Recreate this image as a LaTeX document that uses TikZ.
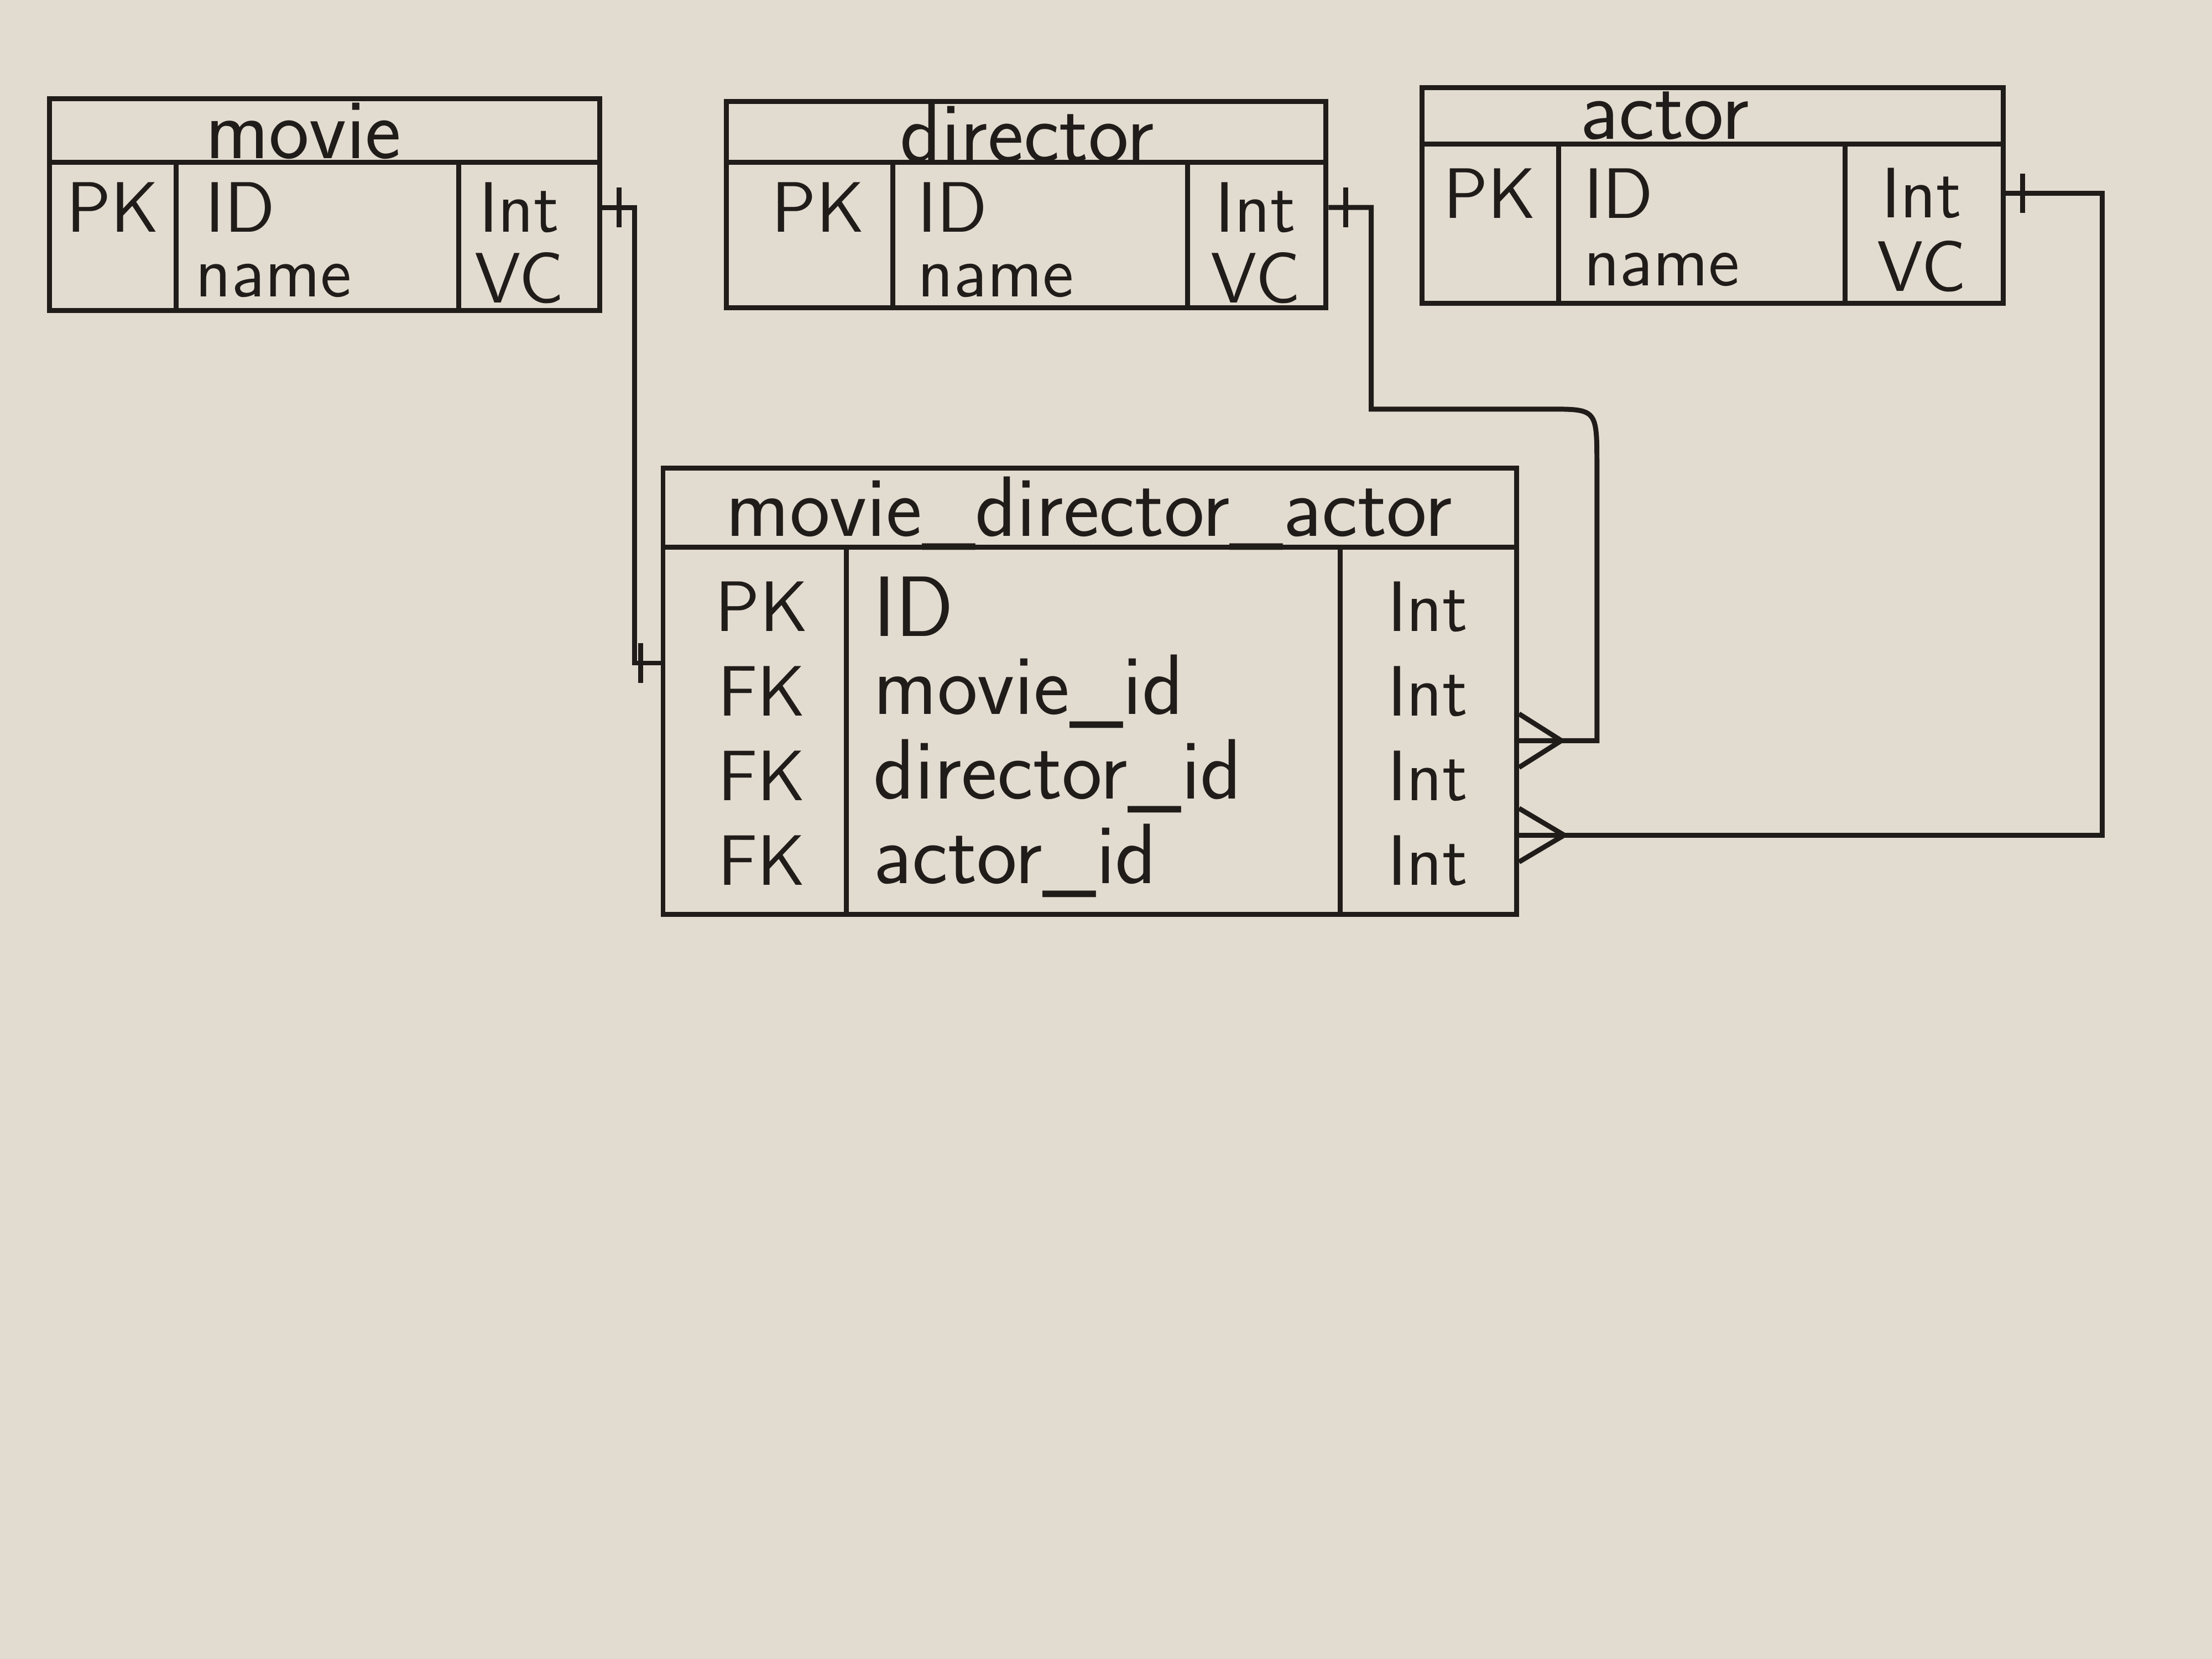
\documentclass[tikz,border=0pt]{standalone}
\usepackage{tikz}
\usetikzlibrary{positioning}

\definecolor{paper}{RGB}{226,219,207}
\definecolor{ink}{RGB}{32,28,26}

\tikzset{
  tbl/.style={draw=ink, line width=1pt, inner sep=0pt},
  ttl/.style={font=\sffamily\LARGE, text=ink, inner sep=0pt},
  fld/.style={font=\sffamily\Large, text=ink, anchor=west, inner sep=0pt},
  bigfld/.style={font=\sffamily\LARGE, text=ink, anchor=west, inner sep=1pt},
  keycell/.style={font=\sffamily\Large, text=ink, inner sep=0pt},
  typ/.style={font=\sffamily\Large, text=ink, inner sep=0pt},
  rel/.style={draw=ink, line width=1pt},
}

\begin{document}
\begin{tikzpicture}[x=0.1mm, y=-0.1mm]
    \fill [paper] (0,0) rectangle (1568,1176);
    \useasboundingbox (0,0) rectangle (1568,1176);

    % movie
    \node [tbl, minimum width=39mm, minimum height=15mm] (movie) at (230,145) {};
    \draw [rel] (35,115) -- (425,115);
    \draw [rel] (125,115) -- (125,220);
    \draw [rel] (325,115) -- (325,220);
    \node [ttl] (movie-t) at (215,93) {movie};
    \node [keycell] (movie-pk) at (80,147) {PK};
    \node [fld] (movie-id) at (145,147) {ID};
    \node [fld] (movie-name) at (138,199) {name};
    \node [typ] (movie-idt) at (368,147) {Int};
    \node [typ] (movie-namet) at (368,197) {VC};

    % director
    \node [tbl, minimum width=42.5mm, minimum height=14.6mm] (director) at (727.5,145) {};
    \draw [rel] (515,115) -- (940,115);
    \draw [rel] (633,115) -- (633,218);
    \draw [rel] (842,115) -- (842,218);
    \node [ttl] (director-t) at (728,94) {director};
    \node [keycell] (director-pk) at (580,147) {PK};
    \node [fld] (director-id) at (650,147) {ID};
    \node [fld] (director-name) at (650,199) {name};
    \node [typ] (director-idt) at (890,147) {Int};
    \node [typ] (director-namet) at (890,197) {VC};

    % actor
    \node [tbl, minimum width=41.2mm, minimum height=15.3mm] (actor) at (1214,138.5) {};
    \draw [rel] (1008,102) -- (1420,102);
    \draw [rel] (1105,102) -- (1105,215);
    \draw [rel] (1308,102) -- (1308,215);
    \node [ttl] (actor-t) at (1180,82) {actor};
    \node [keycell] (actor-pk) at (1056,137) {PK};
    \node [fld] (actor-id) at (1122,137) {ID};
    \node [fld] (actor-name) at (1122,191) {name};
    \node [typ] (actor-idt) at (1362,137) {Int};
    \node [typ] (actor-namet) at (1362,189) {VC};

    % movie_director_actor
    \node [tbl, minimum width=60.5mm, minimum height=31.6mm] (mda) at (772.5,490) {};
    \draw [rel] (470,388) -- (1075,388);
    \draw [rel] (600,388) -- (600,648);
    \draw [rel] (950,388) -- (950,648);
    \node [ttl] (mda-t) at (772,364) {movie\_director\_actor};
    \node [keycell] (mda-pk) at (540,430) {PK};
    \node [bigfld] (mda-id) at (615,430) {ID};
    \node [typ] (mda-idt) at (1012,430) {Int};
    \node [keycell] (mda-fk1) at (540,490) {FK};
    \node [bigfld] (mda-mid) at (615,490) {movie\_id};
    \node [typ] (mda-midt) at (1012,490) {Int};
    \node [keycell] (mda-fk2) at (540,550) {FK};
    \node [bigfld] (mda-did) at (615,550) {director\_id};
    \node [typ] (mda-didt) at (1012,550) {Int};
    \node [keycell] (mda-fk3) at (540,610) {FK};
    \node [bigfld] (mda-aid) at (615,610) {actor\_id};
    \node [typ] (mda-aidt) at (1012,610) {Int};

    % relationship ends
    \coordinate (m-one) at (movie.east |- movie-id);
    \coordinate (mda-one) at (mda.west |- 0,470);
    \coordinate (d-one) at (director.east |- director-id);
    \coordinate (d-many) at (mda.east |- 0,525);
    \coordinate (a-one) at (actor.east |- actor-id);
    \coordinate (a-many) at (mda.east |- 0,592);

    % movie -- movie_director_actor
    \draw [rel] (m-one) -| (450,470) -- (mda-one);
    \draw [rel] (m-one) ++(12,-14) -- ++(0,28);
    \draw [rel] (mda-one) ++(-14,-14) -- ++(0,28);

    % director -- movie_director_actor
    \draw [rel] (d-one) -| (972,290) -- (1098,290) .. controls (1132,290) .. (1132,330) -- (1132,525) -- (d-many);
    \draw [rel] (d-one) ++(12,-14) -- ++(0,28);
    \draw [rel] (d-many) ++(0,-19) -- ++(30,19) -- ++(-30,19);

    % actor -- movie_director_actor
    \draw [rel] (a-one) -| (1490,592) -- (a-many);
    \draw [rel] (a-one) ++(12,-14) -- ++(0,28);
    \draw [rel] (a-many) ++(0,-19) -- ++(32,19) -- ++(-32,19);
\end{tikzpicture}
\end{document}
